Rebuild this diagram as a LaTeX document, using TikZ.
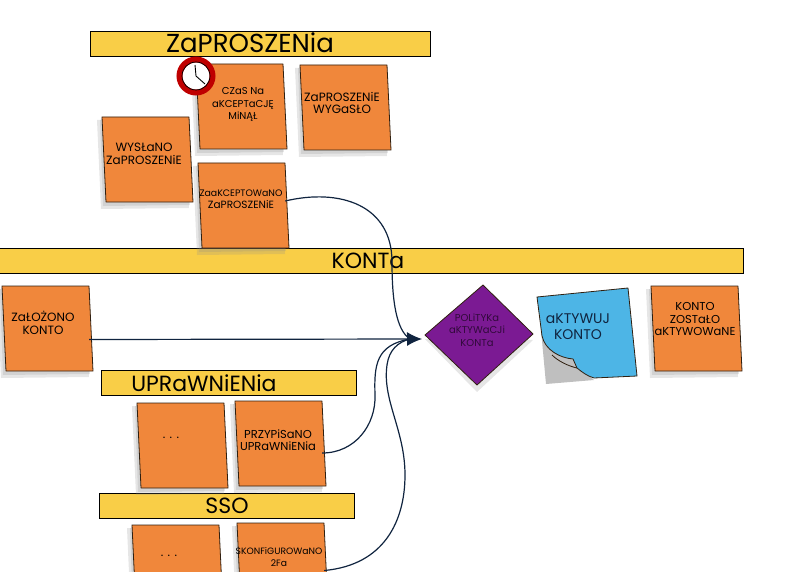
\documentclass[tikz,border=0pt]{standalone}
\usepackage{fontspec}
\setmainfont{Poppins}
\usetikzlibrary{arrows.meta}

\definecolor{noteorange}{HTML}{F0873B}
\definecolor{baryellow}{HTML}{F9CE47}
\definecolor{policypurple}{HTML}{7B1A93}
\definecolor{actionblue}{HTML}{4DB5E6}
\definecolor{linknavy}{HTML}{10243F}

\newcommand{\fs}[1]{\fontsize{#1}{12.5}\selectfont}

\tikzset{
  paper/.style={draw=black!75!brown, line width=0.8pt, line join=round},
  softshade/.style={fill=black!45, opacity=0.22},
  boxslot/.style={inner sep=0, minimum width=87pt, minimum height=85pt},
  notetext/.style={align=center, inner sep=0, font=\fs{12}, text=black},
  bartext/.style={inner sep=0, font=\fontsize{22}{24}\selectfont, text=black},
  banner/.style={draw=black, line width=1.2pt, fill=baryellow, inner sep=0, anchor=north west},
  link/.style={draw=linknavy, line width=1.2pt},
}

% note: name, top left x, top left y, text x, text y, text
\newcommand{\stickynote}[6]{
  \begin{scope}[shift={(#2,#3)}]
    \fill [softshade] (-5,3) -- (85,3) -- (87,91) -- (-1,92) -- cycle;
    \fill [softshade] (-2,3) -- (85,3) -- (88,88) -- (1,89) -- cycle;
    \draw [paper, fill=noteorange] (0,0) -- (87,0) -- (91,85) -- (4,85) -- cycle;
    \node [boxslot] (#1) at (43.5,42.5) {};
  \end{scope}
  \node [notetext] (#1text) at (#4,#5) {#6};
}

\begin{document}
\begin{tikzpicture}[x=1pt, y=-1pt]
  \useasboundingbox (0,0) rectangle (786,572);
  \clip (0,0) rectangle (786,572);

  \node [banner, minimum width=340pt, minimum height=25pt] (invites) at (90,31) {};
  \node [bartext, font=\fontsize{26}{28}\selectfont] (invitestext) at (250,43) {ZaPROSZENia};
  \node [banner, minimum width=760pt, minimum height=25pt] (accounts) at (-17,248) {};
  \node [bartext] (accountstext) at (368,261) {KONTa};
  \node [banner, minimum width=255pt, minimum height=25pt] (rights) at (101,370) {};
  \node [bartext] (rightstext) at (204,383) {UPRaWNiENia};
  \node [banner, minimum width=255pt, minimum height=25pt] (sso) at (99,493) {};
  \node [bartext] (ssotext) at (227,506) {SSO};

  \stickynote{sent}{102}{117}{144}{154}{WYSŁaNO\\ZaPROSZENiE}
  \stickynote{expiry}{196}{64}{243}{105}{\fs{10}CZaS Na\\\fs{10}aKCEPTaCJĘ\\\fs{10}MiNĄŁ}
  \stickynote{expired}{300}{65}{342}{103}{ZaPROSZENiE\\WYGaSŁO}
  \stickynote{accepted}{198}{163}{241}{199}{\fs{9.4}ZaaKCEPTOWaNO\\\fs{10.5}ZaPROSZENiE}
  \stickynote{founded}{2}{286}{43}{323}{ZaŁOŻONO\\KONTO}
  \stickynote{rightsdots}{137}{403}{171}{438}{. . .}
  \stickynote{granted}{235}{401}{278}{440}{\fs{11.5}PRZYPiSaNO\\\fs{11.5}UPRaWNiENia}
  \stickynote{ssodots}{132}{525}{169}{556}{. . .}
  \stickynote{twofactor}{237}{523}{279}{557}{\fs{9.2}SKONFiGUROWaNO\\\fs{9.2}2Fa}
  \stickynote{activated}{651}{286}{695}{319}{\fs{11.5}KONTO\\\fs{11.5}ZOSTaŁO\\\fs{11.5}aKTYWOWaNE}

  % alarm on the corner of the expiry note
  \fill [black!80] (186,64) circle (3pt) (206,64) circle (3pt);
  \node [circle, draw=red!75!black, line width=6pt, fill=white, minimum size=33pt, inner sep=0] (clock) at (196,76) {};
  \draw [black, line width=0.7pt] (clock.center) circle (14pt);
  \draw [black, line width=0.9pt] (clock.center) -- (195,65) (clock.center) -- (205,84);

  % policy
  \fill [softshade] (425,339) -- (477,392) -- (533,340) -- cycle;
  \draw [paper, fill=policypurple] (483,285) -- (533,334) -- (477,385) -- (425,335) -- cycle;
  \node [inner sep=0, minimum width=100pt, minimum height=90pt] (policy) at (479,335) {};
  \node [notetext, font=\fs{10}, text=black!60!policypurple] (policytext) at (477,330) {POLiTYKa\\\fs{10}aKTYWaCJi\\\fs{10}KONTa};

  % activate, with its curled corner
  \fill [black!25] (541,330) -- (546,384) -- (594,380) -- cycle;
  \draw [paper, fill=actionblue] (537,297) -- (628,288) -- (637,376) -- (594,378)
      .. controls (587,376) and (582,372) .. (577,368)
      -- (573,359) .. controls (560,358) and (545,350) .. (542,336) -- cycle;
  \draw [paper] (552,355) .. controls (558,361) and (568,366) .. (577,368);
  \node [inner sep=0, minimum width=95pt, minimum height=88pt] (activate) at (587,332) {};
  \node [notetext, font=\fontsize{14}{16}\selectfont, text=linknavy] (activatetext) at (578,327) {aKTYWUJ\\\fontsize{14}{16}\selectfont KONTO};

  \coordinate (joint) at (422,339);
  \coordinate (merge) at (410,339);
  \draw [link, -{Latex[length=15pt,width=14pt]}] ([yshift=-11pt]founded.east) -- (joint);
  \draw [link] ([yshift=4.5pt]accepted.east) .. controls (340,188) and (392,205) .. (392,262)
      .. controls (392,300) and (396,330) .. (merge);
  \draw [link] ([yshift=-9.5pt]granted.east) .. controls (355,453) and (376,425) .. (375,395)
      .. controls (374,365) and (376,345) .. (merge);
  \draw [link] ([yshift=-5pt]twofactor.east) .. controls (385,565) and (405,520) .. (405,475)
      .. controls (405,430) and (382,400) .. (387,365)
      .. controls (389,350) and (398,342) .. (merge);
\end{tikzpicture}
\end{document}
